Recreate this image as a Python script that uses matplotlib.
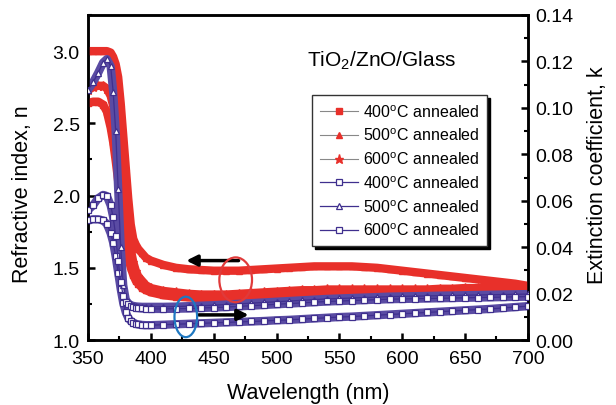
import matplotlib
matplotlib.use('Agg')
import matplotlib.pyplot as plt
from matplotlib.patches import Ellipse
from matplotlib.ticker import MultipleLocator, FormatStrFormatter

plt.rcParams['font.family'] = ['Liberation Sans', 'DejaVu Sans']
plt.rcParams['mathtext.fontset'] = 'custom'
plt.rcParams['mathtext.rm'] = 'Liberation Sans'
plt.rcParams['mathtext.it'] = 'Liberation Sans:italic'

# wavelength grid (nm), denser where the curves drop
wavelength = [350, 354, 358, 362, 365, 368, 370, 372, 374, 376, 378, 380, 382, 384,
              386, 388, 390, 393, 396, 400] + list(range(410, 701, 10))

# refractive index n (left axis)
n_400 = [2.64, 2.65, 2.65, 2.63, 2.58, 2.47, 2.37, 2.24, 2.10, 1.95, 1.80, 1.67, 1.57, 1.50,
         1.45, 1.41, 1.39, 1.36, 1.345, 1.33,
         1.31, 1.30, 1.295, 1.29, 1.29, 1.29, 1.295, 1.30, 1.305, 1.31, 1.315, 1.32, 1.32, 1.325,
         1.325, 1.325, 1.325, 1.325, 1.325, 1.325, 1.325, 1.33, 1.33, 1.335, 1.34, 1.34, 1.345,
         1.35, 1.35, 1.355]
n_500 = [3.00, 3.00, 3.00, 3.00, 3.00, 2.99, 2.96, 2.91, 2.82, 2.64, 2.42, 2.20, 1.98, 1.80,
         1.70, 1.66, 1.63, 1.60, 1.57, 1.55,
         1.52, 1.50, 1.49, 1.485, 1.48, 1.48, 1.48, 1.485, 1.49, 1.495, 1.50, 1.505, 1.51, 1.51,
         1.51, 1.51, 1.505, 1.50, 1.49, 1.48, 1.47, 1.46, 1.45, 1.44, 1.43, 1.42, 1.41, 1.40,
         1.39, 1.375]
n_600 = [2.73, 2.75, 2.76, 2.76, 2.74, 2.69, 2.62, 2.52, 2.38, 2.22, 2.05, 1.89, 1.75, 1.63,
         1.54, 1.48, 1.44, 1.41, 1.38, 1.36,
         1.34, 1.33, 1.32, 1.315, 1.315, 1.315, 1.32, 1.325, 1.33, 1.335, 1.34, 1.345, 1.345,
         1.35, 1.35, 1.35, 1.35, 1.35, 1.35, 1.35, 1.35, 1.35, 1.355, 1.355, 1.36, 1.36, 1.365,
         1.365, 1.37, 1.37]

# extinction coefficient k (right axis)
k_400 = [0.0515, 0.052, 0.052, 0.0515, 0.050, 0.046, 0.042, 0.036, 0.029, 0.022, 0.016, 0.012,
         0.0095, 0.0082, 0.0075, 0.0070, 0.0067, 0.0065, 0.0064, 0.0064,
         0.0066, 0.0068, 0.0070, 0.0072, 0.0074, 0.0076, 0.0078, 0.0080, 0.0082, 0.0085, 0.0087,
         0.0090, 0.0093, 0.0096, 0.0099, 0.0101, 0.0104, 0.0107, 0.0110, 0.0113, 0.0116, 0.0119,
         0.0122, 0.0125, 0.0128, 0.0131, 0.0134, 0.0138, 0.0142, 0.0146]
k_500 = [0.1077, 0.111, 0.115, 0.1195, 0.121, 0.118, 0.107, 0.090, 0.065, 0.040, 0.0236, 0.0174,
         0.0158, 0.0150, 0.0147, 0.0145, 0.0144, 0.0143, 0.0143, 0.0143,
         0.0143, 0.0144, 0.0146, 0.0148, 0.0150, 0.0153, 0.0156, 0.0159, 0.0162, 0.0165, 0.0168,
         0.0171, 0.0174, 0.0177, 0.0179, 0.0181, 0.0183, 0.0185, 0.0187, 0.0188, 0.0189, 0.0190,
         0.0191, 0.0192, 0.0193, 0.0194, 0.0195, 0.0196, 0.0197, 0.0198]
k_600 = [0.056, 0.058, 0.061, 0.0625, 0.062, 0.058, 0.053, 0.045, 0.034, 0.025, 0.019, 0.0165,
         0.0155, 0.0148, 0.0143, 0.0140, 0.0138, 0.0136, 0.0135, 0.0134,
         0.0134, 0.0135, 0.0136, 0.0138, 0.0140, 0.0142, 0.0145, 0.0148, 0.0151, 0.0154, 0.0157,
         0.0160, 0.0163, 0.0166, 0.0168, 0.0170, 0.0172, 0.0174, 0.0176, 0.0177, 0.0178, 0.0179,
         0.0180, 0.0181, 0.0182, 0.0183, 0.0184, 0.0185, 0.0186, 0.0187]

labels = ['400$^{\\rm o}$C annealed', '500$^{\\rm o}$C annealed', '600$^{\\rm o}$C annealed']

RED = '#e8302a'
PURPLE = '#3f2f8e'

fig = plt.figure(figsize=(6.16, 4.06), dpi=100)
ax = fig.add_axes([0.1429, 0.160, 0.714, 0.8006])
ax2 = ax.twinx()

# n curves: grey line with markers (legend entry) under a solid red band
for vals, mk, lab in zip([n_400, n_500, n_600], ['s', '^', '*'], labels):
    ax.plot(wavelength, vals, color='#888888', lw=0.8, marker=mk, ms=5 if mk != '*' else 6.5,
            mfc=RED, mec=RED, label=lab, zorder=2)
    ax.plot(wavelength, vals, color=RED, lw=6, solid_capstyle='round', zorder=3)

# k curves: band + hollow markers
for vals, mk, lab in zip([k_400, k_500, k_600], ['s', '^', 's'], labels):
    ax2.plot(wavelength, vals, color='#5a4ba3', lw=6, solid_capstyle='round', zorder=2)
    ax2.plot(wavelength, vals, color=PURPLE, lw=0.9, marker=mk, ms=4.5,
             mfc='white', mec=PURPLE, mew=0.9, label=lab, zorder=3)

ax.set_xlim(350, 700)
ax.set_ylim(1.0, 3.25)
ax2.set_ylim(0.0, 0.14)

ax.xaxis.set_major_locator(MultipleLocator(50))
ax.xaxis.set_minor_locator(MultipleLocator(25))
ax.yaxis.set_major_locator(MultipleLocator(0.5))
ax.yaxis.set_minor_locator(MultipleLocator(0.25))
ax.yaxis.set_major_formatter(FormatStrFormatter('%.1f'))
ax2.yaxis.set_major_locator(MultipleLocator(0.02))
ax2.yaxis.set_minor_locator(MultipleLocator(0.01))
ax2.yaxis.set_major_formatter(FormatStrFormatter('%.2f'))

for a in (ax, ax2):
    for s in a.spines.values():
        s.set_linewidth(1.8)
    a.tick_params(which='major', direction='in', length=5, width=1.8, labelsize=14)
    a.tick_params(which='minor', direction='in', length=3, width=1.5)
ax.tick_params(axis='both', which='both', top=False, right=False)
ax.tick_params(axis='x', pad=7)
ax.tick_params(axis='y', pad=6)
ax2.tick_params(axis='y', pad=5)

ax.set_xlabel('Wavelength (nm)', fontsize=15.5)
ax.set_ylabel('Refractive index, n', fontsize=15.5)
ax2.set_ylabel('Extinction coefficient, k', fontsize=15.5)
ax.xaxis.set_label_coords(0.5, -0.128)
ax.yaxis.set_label_coords(-0.125, 0.452)
ax2.yaxis.set_label_coords(1.134, 0.51)

ax.text(524, 2.94, 'TiO$_2$/ZnO/Glass', fontsize=15, va='center', ha='left')

# arrows and ellipses marking which axis each group belongs to
ax2.annotate('', xy=(426, 1.55), xytext=(472, 1.55), xycoords=ax.transData,
             textcoords=ax.transData,
             arrowprops=dict(arrowstyle='-|>', color='k', lw=2.5, mutation_scale=16),
             zorder=6)
ax2.annotate('', xy=(480, 1.174), xytext=(436, 1.174), xycoords=ax.transData,
             textcoords=ax.transData,
             arrowprops=dict(arrowstyle='-|>', color='k', lw=2.5, mutation_scale=16),
             zorder=6)
ax2.add_patch(Ellipse((467.5, 1.417), 26, 0.31, transform=ax.transData, fill=False,
                      ec='#e03a3a', lw=1.6, zorder=7))
ax2.add_patch(Ellipse((427.8, 1.16), 18, 0.28, transform=ax.transData, fill=False,
                      ec='#1f78c1', lw=1.6, zorder=7))

h1, l1 = ax.get_legend_handles_labels()
h2, l2 = ax2.get_legend_handles_labels()
leg = ax2.legend(h1 + h2, l1 + l2, loc='upper left', bbox_to_anchor=(0.509, 0.754),
                 borderaxespad=0, fontsize=11.5, frameon=True, fancybox=False,
                 edgecolor='#333333', framealpha=1, handlelength=2.4, handletextpad=0.3,
                 labelspacing=0.45, borderpad=0.5,
                 shadow={'color': 'black', 'alpha': 1.0})
leg.get_frame().set_linewidth(1.0)
leg.set_zorder(10)

fig.savefig('out.png', dpi=100)
